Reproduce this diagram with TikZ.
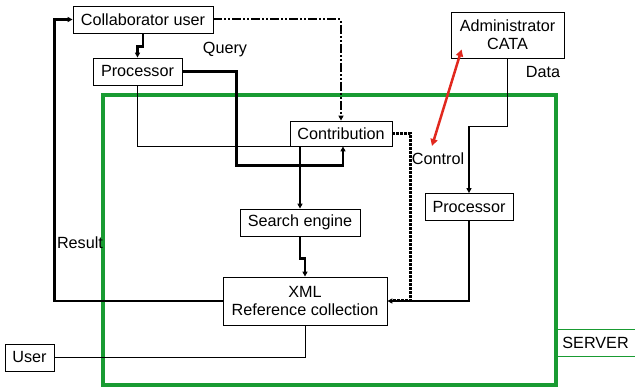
\documentclass[tikz,border=0pt]{standalone}
\usepackage{fontspec}
\setmainfont{Liberation Sans}
\usetikzlibrary{arrows.meta, calc}
\definecolor{servergreen}{RGB}{25,155,50}
\definecolor{linkred}{RGB}{225,40,30}

\begin{document}
\begin{tikzpicture}[
    x=1pt, y=-1pt,
    part/.style={draw, line width=0.8pt, fill=white, minimum width=#1, minimum height=27pt, inner sep=0pt, align=center, font=\fontsize{16.2}{18}\selectfont},
    lbl/.style={font=\fontsize{16.2}{18}\selectfont, inner sep=0pt},
    tip/.style={-{Triangle[length=5pt, width=5pt]}},
    heavy/.style={line width=2.8pt},
    light/.style={line width=0.8pt},
    query/.style={line width=2pt, dash pattern=on 9pt off 2pt on 2pt off 2pt on 2pt off 2pt},
    feed/.style={line width=3pt, dash pattern=on 2.5pt off 1.5pt}
]
    \useasboundingbox (0,0) rectangle (635,390);

    % server frame
    \draw[servergreen, line width=4pt] (102.5,95) rectangle (556,385);
    \node[lbl, draw=servergreen, line width=0.8pt, minimum width=84pt, minimum height=27pt, anchor=west, text width=76pt, inner xsep=6pt] (server) at (556,342.5) {SERVER};

    \node[part=140pt] (collab) at (143,19.5) {Collaborator user};
    \node[part=89pt] (proc1) at (137.5,71.5) {Processor};
    \node[part=113pt, minimum height=46pt] (admin) at (507.5,35) {Administrator\\CATA};
    \node[part=102pt, minimum height=25pt] (contrib) at (341,133.5) {Contribution};
    \node[part=88pt] (proc2) at (469,207) {Processor};
    \node[part=120pt] (search) at (300,222.5) {Search engine};
    \node[part=164pt, minimum height=48pt] (xml) at (305,301) {XML\\Reference collection};
    \node[part=49pt] (user) at (29.5,357.5) {User};

    \node[lbl] (query) at (225,50) {Query};
    \node[lbl] (data) at (543,72) {Data};
    \node[lbl] (control) at (438,159) {Control};
    \node[lbl] (result) at (80,243) {Result};

    \coordinate (ctrltip) at (432,146);
    \coordinate (databend) at ([yshift=67pt]proc2.north);

    % request side
    \draw[heavy, tip] (collab.south) -- ++(0,13) -| (proc1.north);
    \draw[query, tip] (collab.east) -| (contrib.north);
    \draw[heavy, tip] (proc1.east) -| ++(54,94) -| ([xshift=2pt]contrib.south);
    \draw[light] (proc1.south) |- (contrib.south west);
    \draw[heavy, tip] (search.north |- contrib.south) -- (search.north);
    \draw[heavy, tip] (search.south) -- ++(0,22) -| (xml.north);
    \draw[heavy, tip] (xml.west) -- ++(-168,0) |- (collab.west);

    % administration side
    \draw[light] (admin.south) |- (databend);
    \draw[line width=1.6pt, tip] (databend) -- (proc2.north);
    \draw[feed] (contrib.east) -- ++(18,0) |- ([xshift=6pt]xml.east);
    \draw[heavy, tip] (proc2.south) |- (xml.east);
    \draw[linkred, line width=2.5pt, {Triangle[length=7pt, width=7pt]}-{Triangle[length=7pt, width=7pt]}] ([xshift=11pt, yshift=9pt]admin.south west) -- (ctrltip);

    \draw[light] (user.east) -| (xml.south);
\end{tikzpicture}
\end{document}
